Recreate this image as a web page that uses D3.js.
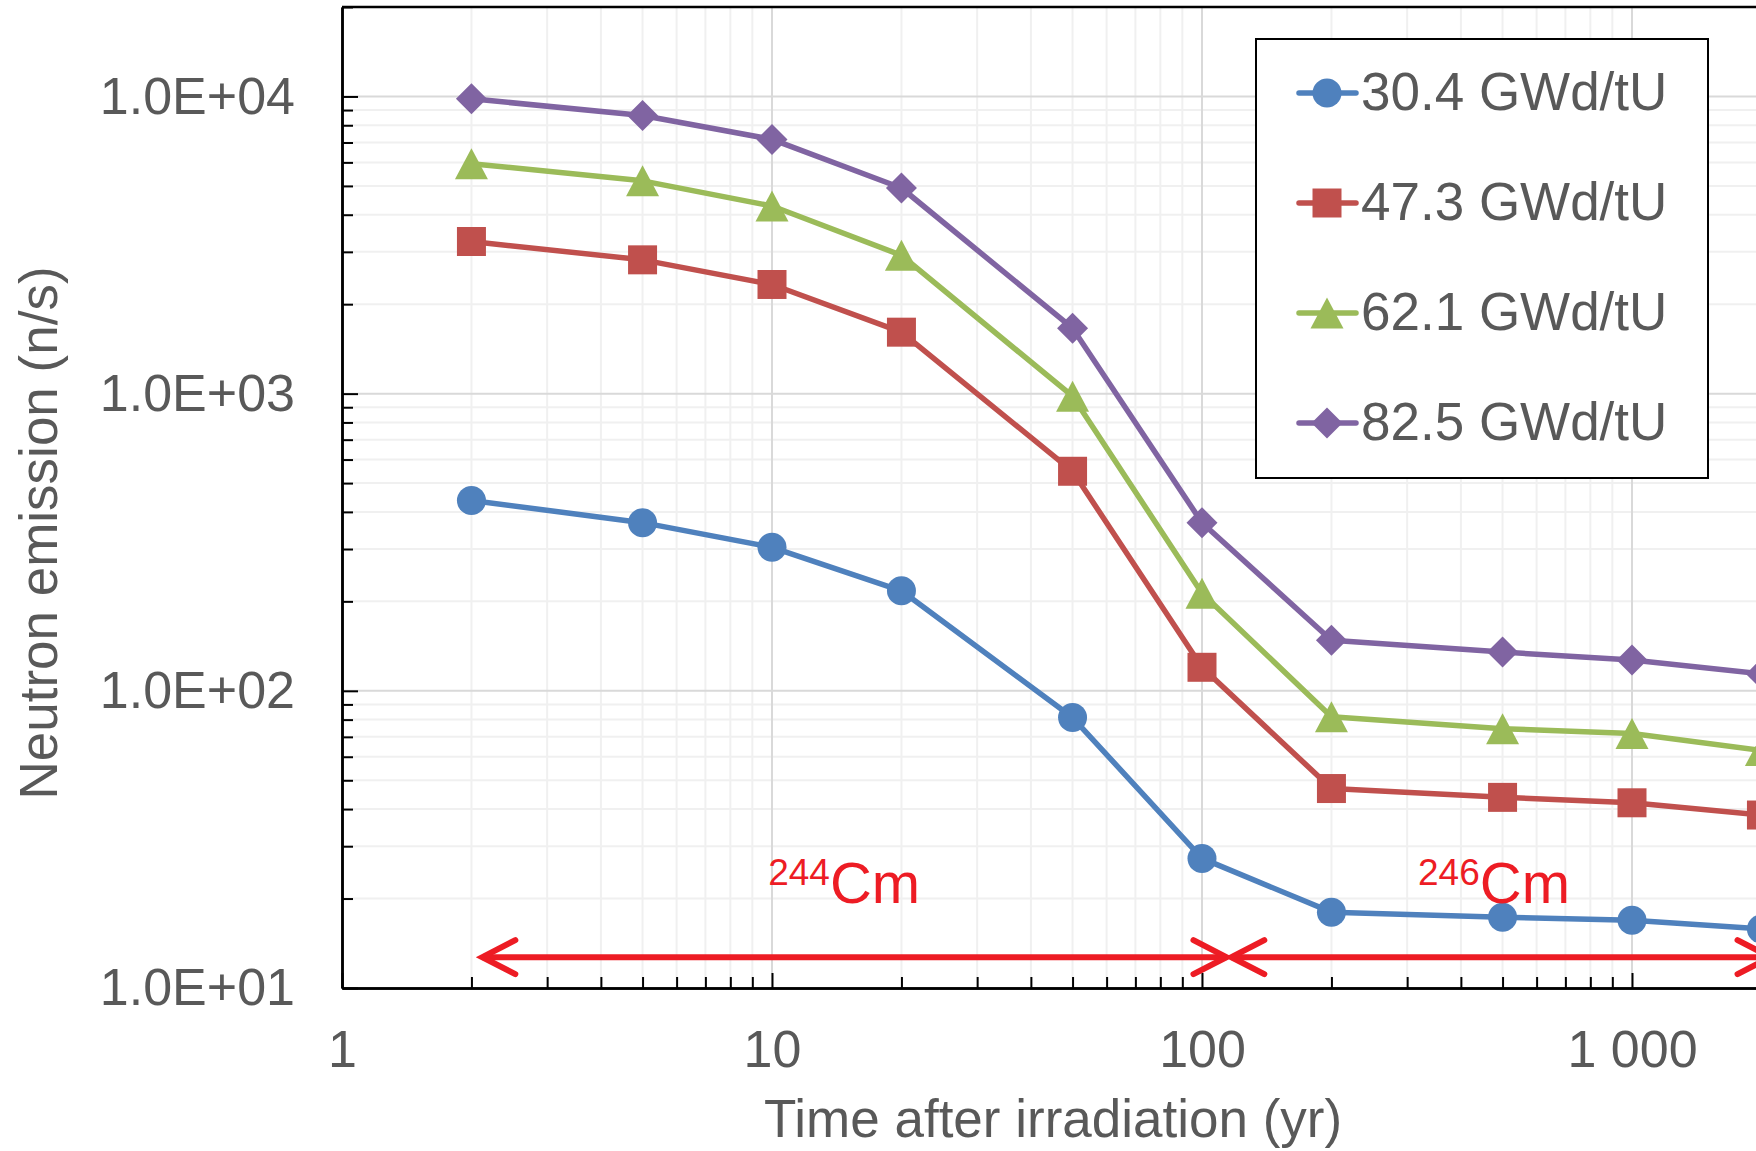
<!DOCTYPE html>
<html>
<head>
<meta charset="utf-8">
<script src="https://cdn.jsdelivr.net/npm/d3@7"></script>
<style>
  html, body { margin: 0; padding: 0; background: #fff; }
  svg { display: block; font-family: "Liberation Sans", Arial, sans-serif; }
</style>
</head>
<body>
<div id="chart"></div>
<script>
// time after irradiation (yr) and neutron emission (n/s) per burnup
const years = [2, 5, 10, 20, 50, 100, 200, 500, 1000, 2000]
const seriesNames = ['30.4 GWd/tU', '47.3 GWd/tU', '62.1 GWd/tU', '82.5 GWd/tU']
const burnup30 = [437, 368, 304, 217, 81.3, 27.3, 18.0, 17.3, 16.9, 15.8]
const burnup47 = [3250, 2820, 2330, 1610, 548, 120, 46.9, 43.8, 42.0, 38.2]
const burnup62 = [5940, 5200, 4280, 2920, 980, 213, 81.8, 74.6, 71.8, 63.0]
const burnup82 = [9820, 8630, 7170, 4920, 1660, 368, 148, 135, 127, 114]

const xTickValues = [1, 10, 100, 1000]
const xTickLabels = ['1', '10', '100', '1 000']
const yTickValues = [10, 100, 1000, 10000]
const yTickLabels = ['1.0E+01', '1.0E+02', '1.0E+03', '1.0E+04']

// curium isotope ranges (yr) shown with arrows
const nuclideMass = ['244', '246']
const nuclideFrom = [2.12, 117]
const nuclideTo = [114, 2100]
const nuclideLabelX = [9.8, 318]
const arrowLevel = 12.7
const labelLevel = 19.3

const width = 1756
const height = 1151
const colors = ['#4F81BD', '#C0504D', '#9BBB59', '#8064A2']
const shapes = ['circle', 'square', 'triangle', 'diamond']
const textColor = '#595959'
const red = '#ED1C24'

const svg = d3.select('#chart')
  .append('svg')
  .attr('width', width)
  .attr('height', height)

const x = d3.scaleLog().domain([1, 10000]).range([342, 2062])
const y = d3.scaleLog().domain([10, 20000]).range([988, 7])

const plotLeft = x.range()[0]
const plotRight = x.range()[1]
const plotTop = y.range()[1]
const plotBottom = y.range()[0]

// minor values for grid and ticks
const minorX = []
for (let d = 1; d < 10000; d *= 10)
  for (let k = 2; k <= 9; k++) minorX.push(d * k)
const minorY = []
for (let d = 10; d < 20000; d *= 10)
  for (let k = 2; k <= 9; k++) if (d * k <= 20000) minorY.push(d * k)

const grid = svg.append('g')
grid.selectAll('.mx').data(minorX).enter().append('line')
  .attr('x1', d => x(d)).attr('x2', d => x(d))
  .attr('y1', plotTop).attr('y2', plotBottom)
  .attr('stroke', '#f0f0f0').attr('stroke-width', 2)
grid.selectAll('.my').data(minorY).enter().append('line')
  .attr('x1', plotLeft).attr('x2', plotRight)
  .attr('y1', d => y(d)).attr('y2', d => y(d))
  .attr('stroke', '#f0f0f0').attr('stroke-width', 2)
grid.selectAll('.Mx').data(xTickValues.slice(1)).enter().append('line')
  .attr('x1', d => x(d)).attr('x2', d => x(d))
  .attr('y1', plotTop).attr('y2', plotBottom)
  .attr('stroke', '#d9d9d9').attr('stroke-width', 2)
grid.selectAll('.My').data(yTickValues.slice(1)).enter().append('line')
  .attr('x1', plotLeft).attr('x2', plotRight)
  .attr('y1', d => y(d)).attr('y2', d => y(d))
  .attr('stroke', '#d9d9d9').attr('stroke-width', 2)

// top border
svg.append('line')
  .attr('x1', plotLeft).attr('x2', plotRight)
  .attr('y1', plotTop).attr('y2', plotTop)
  .attr('stroke', '#000').attr('stroke-width', 2.5)

const styleAxis = g => {
  g.select('.domain').attr('stroke', '#000').attr('stroke-width', 2.5)
  g.selectAll('.tick line').attr('stroke', '#000').attr('stroke-width', 2)
  g.selectAll('.tick text')
    .attr('fill', textColor)
    .style('font-size', '52px')
    .style('font-family', '"Liberation Sans", Arial, sans-serif')
}

svg.append('g')
  .attr('transform', `translate(0, ${plotBottom})`)
  .call(d3.axisBottom(x).tickValues(minorX).tickSize(-11).tickSizeOuter(0).tickFormat(''))
  .call(styleAxis)
svg.append('g')
  .attr('transform', `translate(0, ${plotBottom})`)
  .call(d3.axisBottom(x).tickValues(xTickValues).tickSize(-15).tickSizeOuter(0).tickPadding(42)
    .tickFormat((d, i) => xTickLabels[i]))
  .call(styleAxis)

svg.append('g')
  .attr('transform', `translate(${plotLeft}, 0)`)
  .call(d3.axisLeft(y).tickValues(minorY).tickSize(-11).tickSizeOuter(0).tickFormat(''))
  .call(styleAxis)
svg.append('g')
  .attr('transform', `translate(${plotLeft}, 0)`)
  .call(d3.axisLeft(y).tickValues(yTickValues).tickSize(-16).tickSizeOuter(0).tickPadding(47)
    .tickFormat((d, i) => yTickLabels[i]))
  .call(styleAxis)

// axis titles
svg.append('text')
  .attr('x', 1053).attr('y', 1137)
  .attr('text-anchor', 'middle')
  .attr('fill', textColor)
  .style('font-size', '53px')
  .text('Time after irradiation (yr)')

svg.append('text')
  .attr('transform', 'translate(57, 533) rotate(-90)')
  .attr('text-anchor', 'middle')
  .attr('fill', textColor)
  .style('font-size', '53px')
  .text('Neutron emission (n/s)')

const markerPath = (shape, r) => {
  if (shape === 'circle') return d3.symbol(d3.symbolCircle, Math.PI * r * r)()
  if (shape === 'square') return `M${-r},${-r}H${r}V${r}H${-r}Z`
  if (shape === 'triangle') return `M0,${-r - 1}L${r + 2},${r + 1}L${-r - 2},${r + 1}Z`
  return `M0,${-r - 1}L${r + 1},0L0,${r + 1}L${-r - 1},0Z`
}

const allSeries = [burnup30, burnup47, burnup62, burnup82]

const line = d3.line()
  .x((_, i) => x(years[i]))
  .y(d => y(d))

allSeries.forEach((values, s) => {
  svg.append('path')
    .datum(values)
    .attr('fill', 'none')
    .attr('stroke', colors[s])
    .attr('stroke-width', 5.5)
    .attr('stroke-linejoin', 'round')
    .attr('d', line)

  svg.append('g').selectAll('path')
    .data(values)
    .enter()
    .append('path')
    .attr('transform', (d, i) => `translate(${x(years[i])}, ${y(d)})`)
    .attr('d', markerPath(shapes[s], 14.5))
    .attr('fill', colors[s])
})

// legend
const legend = svg.append('g')
legend.append('rect')
  .attr('x', 1256).attr('y', 39)
  .attr('width', 452).attr('height', 439)
  .attr('fill', '#fff')
  .attr('stroke', '#000')
  .attr('stroke-width', 2)

seriesNames.forEach((name, s) => {
  const ly = 93 + s * 110
  legend.append('line')
    .attr('x1', 1299).attr('x2', 1356)
    .attr('y1', ly).attr('y2', ly)
    .attr('stroke', colors[s])
    .attr('stroke-width', 5.5)
    .attr('stroke-linecap', 'round')
  legend.append('path')
    .attr('transform', `translate(1327, ${ly})`)
    .attr('d', markerPath(shapes[s], 14.5))
    .attr('fill', colors[s])
  legend.append('text')
    .attr('x', 1361).attr('y', ly + 17)
    .attr('fill', textColor)
    .style('font-size', '53px')
    .text(name)
})

// curium arrows and labels
const drawArrowHead = (tipX, dir) => {
  const ay = y(arrowLevel)
  svg.append('path')
    .attr('d', `M${tipX - dir * 33},${ay - 17}L${tipX},${ay}L${tipX - dir * 33},${ay + 17}`)
    .attr('fill', 'none')
    .attr('stroke', red)
    .attr('stroke-width', 6)
    .attr('stroke-linecap', 'round')
}

nuclideMass.forEach((mass, i) => {
  const x1 = x(nuclideFrom[i])
  const x2 = x(nuclideTo[i])
  svg.append('line')
    .attr('x1', x1).attr('x2', x2)
    .attr('y1', y(arrowLevel)).attr('y2', y(arrowLevel))
    .attr('stroke', red)
    .attr('stroke-width', 6)
  drawArrowHead(x1, -1)
  drawArrowHead(x2, 1)

  const t = svg.append('text')
    .attr('x', x(nuclideLabelX[i]))
    .attr('y', y(labelLevel))
    .attr('fill', red)
  t.append('tspan')
    .style('font-size', '37px')
    .attr('dy', -18)
    .text(mass)
  t.append('tspan')
    .style('font-size', '58px')
    .attr('dy', 18)
    .text('Cm')
})
</script>
</body>
</html>
